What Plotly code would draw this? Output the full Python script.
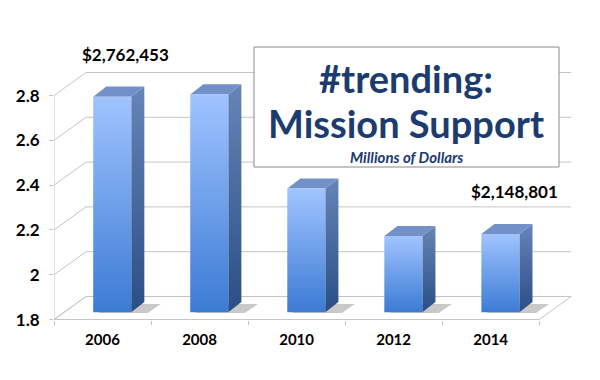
import plotly.graph_objects as go

# ---------------- data ----------------
years = ["2006", "2008", "2010", "2012", "2014"]
values = [2.762, 2.772, 2.352, 2.140, 2.149]          # millions of dollars
y_tick_vals = [1.8, 2.0, 2.2, 2.4, 2.6, 2.8]
y_tick_text = ["1.8", "2", "2.2", "2.4", "2.6", "2.8"]
callout_index = [0, 4]
callout_text = ["$2,762,453", "$2,148,801"]
title_line1 = "#trending:"
title_line2 = "Mission Support"
subtitle = "Millions of Dollars"

# ---------------- geometry / style constants ----------------
Y_MIN = 1.8
X_LO = -0.5
X_HI = len(years) - 0.5
WALL_DX, WALL_DY = 0.33, 0.103           # depth of the back wall (data units)
BAR_OFF_X, BAR_OFF_Y = 0.10, 0.033       # front face of bars sits slightly inside
BAR_HW = 0.196                           # half width of bar front face
BAR_DX, BAR_DY = 0.135, 0.045            # bar depth
GRID = "#c4c4c4"
NAVY = "#1c3b6e"
FONT = "Lato"

fig = go.Figure()

# floor
fig.add_trace(go.Scatter(
    x=[X_LO, X_HI, X_HI + WALL_DX, X_LO + WALL_DX, X_LO],
    y=[Y_MIN, Y_MIN, Y_MIN + WALL_DY, Y_MIN + WALL_DY, Y_MIN],
    mode="lines", fill="toself", fillcolor="white",
    line=dict(color=GRID, width=1), hoverinfo="skip"))

# back-wall gridlines, side-wall diagonals and front wall edge
gx, gy = [], []
for t in y_tick_vals:
    gx += [X_LO, X_LO + WALL_DX, X_HI + WALL_DX, None]
    gy += [t, t + WALL_DY, t + WALL_DY, None]
gx += [X_LO, X_LO, None]
gy += [y_tick_vals[0], y_tick_vals[-1], None]
fig.add_trace(go.Scatter(x=gx, y=gy, mode="lines",
                         line=dict(color=GRID, width=1), hoverinfo="skip"))

# bars (pseudo 3-D)
for i, v in enumerate(values):
    xc = i + BAR_OFF_X
    xl, xr = xc - BAR_HW, xc + BAR_HW
    base = Y_MIN + BAR_OFF_Y
    top = v + BAR_OFF_Y
    # soft shadow on floor
    fig.add_trace(go.Scatter(
        x=[xl + 0.05, xr + 0.17, xr + 0.17 + BAR_DX, xl + BAR_DX + 0.08, xl + 0.05],
        y=[base - 0.004, base - 0.004, base + BAR_DY * 0.8, base + BAR_DY * 0.8, base - 0.004],
        mode="lines", fill="toself", fillcolor="rgba(60,60,60,0.28)",
        line=dict(width=0), hoverinfo="skip"))
    # side face
    fig.add_trace(go.Scatter(
        x=[xr, xr + BAR_DX, xr + BAR_DX, xr, xr],
        y=[base, base + BAR_DY, top + BAR_DY, top, base],
        mode="lines", fill="toself",
        fillgradient=dict(type="vertical",
                          colorscale=[[0, "#2a4e86"], [1, "#6684b7"]]),
        line=dict(width=0), hoverinfo="skip"))
    # top face
    fig.add_trace(go.Scatter(
        x=[xl, xr, xr + BAR_DX, xl + BAR_DX, xl],
        y=[top, top, top + BAR_DY, top + BAR_DY, top],
        mode="lines", fill="toself", fillcolor="#7291c8",
        line=dict(width=0), hoverinfo="skip"))
    # front face
    fig.add_trace(go.Scatter(
        x=[xl, xr, xr, xl, xl],
        y=[base, base, top, top, base],
        mode="lines", fill="toself",
        fillgradient=dict(type="vertical",
                          colorscale=[[0, "#3c7bd4"], [1, "#a0c4ff"]]),
        line=dict(width=0), hoverinfo="skip",
        name=years[i]))

# value callouts
shifts = {0: 23, 4: 24}
for idx, txt in zip(callout_index, callout_text):
    fig.add_annotation(x=idx, y=values[idx], xref="x", yref="y",
                       text=txt, showarrow=False,
                       xanchor="center", yanchor="middle",
                       xshift=shifts.get(idx, 24), yshift=50,
                       font=dict(family=FONT, size=17, color="black", weight="bold"))

# title box
L, R, T, B = 54, 578, 40, 320
def px_x(p): return (p - L) / (R - L)
def px_y(p): return (B - p) / (B - T)

fig.add_shape(type="rect", xref="paper", yref="paper",
              x0=px_x(254), x1=px_x(559), y0=px_y(167), y1=px_y(47),
              fillcolor="white", line=dict(color="#8a8a8a", width=1), layer="above")
fig.add_annotation(xref="paper", yref="paper", x=px_x(406), y=px_y(78),
                   text=title_line1, showarrow=False,
                   xanchor="center", yanchor="middle",
                   font=dict(family=FONT, size=38, color=NAVY, weight="bold"))
fig.add_annotation(xref="paper", yref="paper", x=px_x(406), y=px_y(123),
                   text=title_line2, showarrow=False,
                   xanchor="center", yanchor="middle",
                   font=dict(family=FONT, size=38, color=NAVY, weight="bold"))
fig.add_annotation(xref="paper", yref="paper", x=px_x(406), y=px_y(157),
                   text="<i>" + subtitle + "</i>", showarrow=False,
                   xanchor="center", yanchor="middle",
                   font=dict(family=FONT, size=15, color=NAVY, weight="bold"))

fig.update_layout(
    width=600, height=380,
    margin=dict(l=L, r=600 - R, t=T, b=380 - B),
    paper_bgcolor="white", plot_bgcolor="white",
    showlegend=False,
    xaxis=dict(range=[X_LO, 4.9], showgrid=False, zeroline=False,
               tickmode="array", tickvals=list(range(len(years))), ticktext=years,
               ticks="", ticklabelstandoff=9,
               tickfont=dict(family=FONT, size=15, color="black", weight="bold"),
               minor=dict(ticks="outside", ticklen=4, tickcolor=GRID,
                          tick0=-0.5, dtick=1, showgrid=False),
               fixedrange=True),
    yaxis=dict(range=[1.798, 3.048], showgrid=False, zeroline=False,
               tickmode="array", tickvals=y_tick_vals, ticktext=y_tick_text,
               ticks="outside", ticklen=4, tickcolor=GRID, ticklabelstandoff=6,
               tickfont=dict(family=FONT, size=17, color="black", weight="bold"),
               fixedrange=True),
)

fig.write_html("out.html", config={"displayModeBar": False},
               post_script="document.body.style.margin='0';")
